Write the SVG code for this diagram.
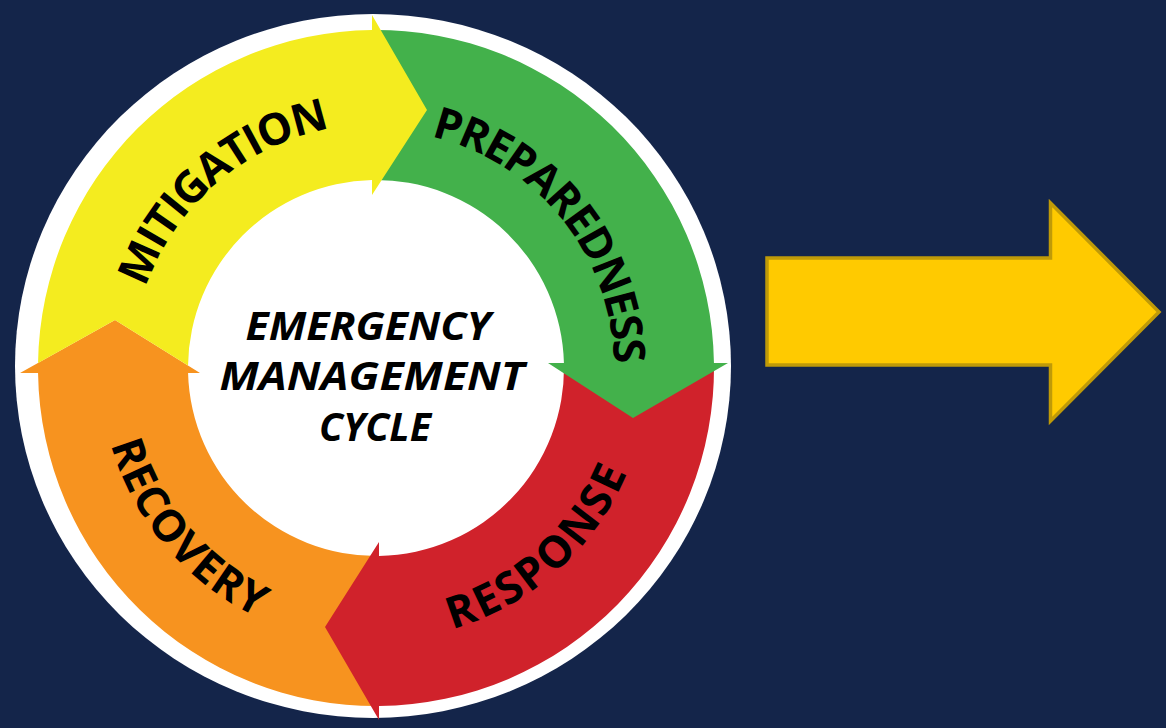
<svg xmlns="http://www.w3.org/2000/svg" width="1166" height="728" viewBox="0 0 1166 728">
  <style>
    .lbl { font-family: "Open Sans", "Liberation Sans", sans-serif; font-weight: 700; font-size: 44px; fill: #000; }
    .ctr { font-family: "Open Sans", "Liberation Sans", sans-serif; font-weight: 700; font-style: italic; font-size: 39px; fill: #000; text-anchor: middle; }
  </style>
  <defs>
    <path id="p-mit" d="M132.02,371.41 A244,244 0 0 1 415.01,127.14"/>
    <path id="p-prep" d="M380.98,130.05 A238,238 0 0 1 609.47,414.23"/>
    <path id="p-resp" d="M337.2,637.22 A272,272 0 0 0 647.87,359.46"/>
    <path id="p-rec" d="M103.95,321.5 A276,276 0 0 0 377.45,644"/>
  </defs>
  <rect width="1166" height="728" fill="#14254a"/>
  <ellipse id="disk" cx="373" cy="366" rx="358" ry="352" fill="#ffffff"/>

  <g id="recovery">
    <path fill="#f7931f" d="M379,705.99 A338,338 0 0 1 38.04,373 L20,373 L115,320 L200,373 L188.07,373 A188,188 0 0 0 379,555.98 Z"/>
    <text class="lbl"><textPath href="#p-rec" startOffset="50%" text-anchor="middle" textLength="233" lengthAdjust="spacing">RECOVERY</textPath></text>
  </g>
  <g id="response">
    <path fill="#d0222b" d="M713.96,363 A338,338 0 0 1 379,705.99 L379,720 L325,627 L379,542 L379,555.98 A188,188 0 0 0 563.93,363 Z"/>
    <text class="lbl"><textPath href="#p-resp" startOffset="50%" text-anchor="middle" textLength="242" lengthAdjust="spacing">RESPONSE</textPath></text>
  </g>
  <g id="preparedness">
    <path fill="#43b14b" d="M372,30.02 A338,338 0 0 1 713.96,363 L728,363 L633,418 L548,363 L563.93,363 A188,188 0 0 0 372,180.04 Z"/>
    <text class="lbl"><textPath href="#p-prep" startOffset="50%" text-anchor="middle" textLength="314" lengthAdjust="spacing">PREPAREDNESS</textPath></text>
  </g>
  <g id="mitigation">
    <path fill="#f4ec1f" d="M38.04,362.94 A338,338 0 0 1 372,30.02 L372,15 L427,110 L372,195 L372,180.04 A188,188 0 0 0 188.02,365.53 L115,320 Z"/>
    <text class="lbl"><textPath href="#p-mit" startOffset="50%" text-anchor="middle" textLength="255" lengthAdjust="spacing">MITIGATION</textPath></text>
  </g>

  <g id="cycle-title">
    <text class="ctr" x="368" y="340" textLength="245" lengthAdjust="spacingAndGlyphs">EMERGENCY</text>
    <text class="ctr" x="372" y="390" textLength="305" lengthAdjust="spacingAndGlyphs">MANAGEMENT</text>
    <text class="ctr" x="375" y="441" textLength="112" lengthAdjust="spacingAndGlyphs">CYCLE</text>
  </g>

  <g id="arrow-right">
    <polygon points="767,258 1050.5,258 1050.5,203 1159,312 1050.5,421 1050.5,365 767,365" fill="#ffca00" stroke="#bf9a08" stroke-width="3.5" stroke-linejoin="miter"/>
  </g>
</svg>
